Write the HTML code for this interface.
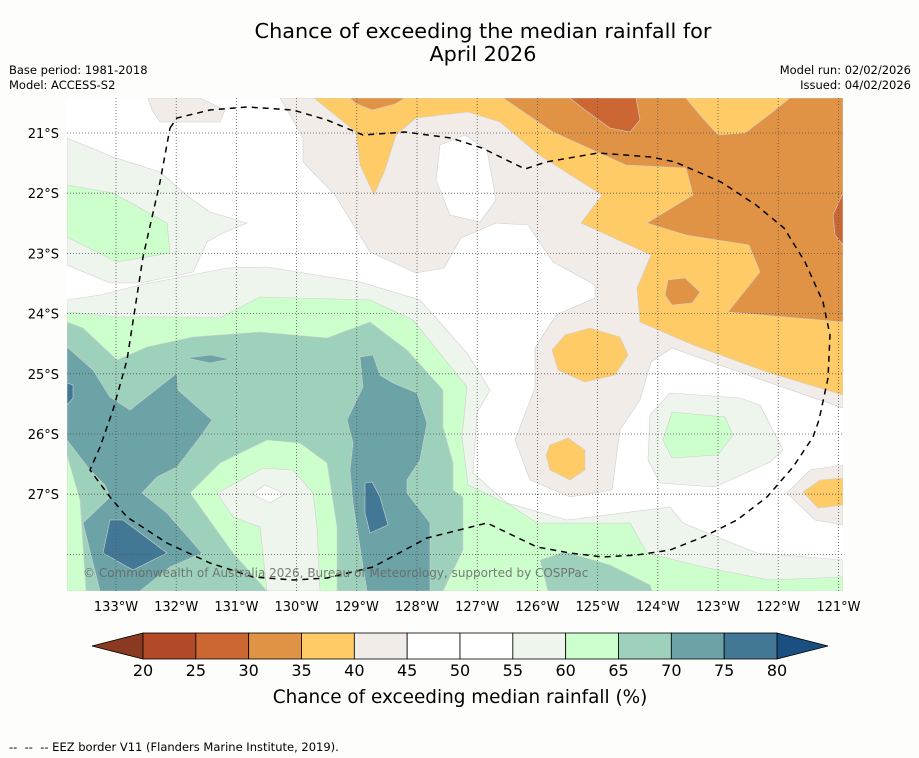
<!DOCTYPE html>
<html><head><meta charset="utf-8"><style>
body{margin:0;background:#fdfefc;width:919px;height:758px;overflow:hidden;font-family:"DejaVu Sans","Liberation Sans",sans-serif}
svg{position:absolute;left:0;top:0;font-family:"DejaVu Sans","Liberation Sans",sans-serif}
</style></head><body>
<svg id="s" width="919" height="758">
<text x="483" y="38" font-size="20.8" text-anchor="middle">Chance of exceeding the median rainfall for</text>
<text x="483" y="61" font-size="20.8" text-anchor="middle">April 2026</text>
<text x="9" y="74" font-size="11.5">Base period: 1981-2018</text>
<text x="9" y="89" font-size="11.5">Model: ACCESS-S2</text>
<text x="911" y="74" font-size="11.5" text-anchor="end">Model run: 02/02/2026</text>
<text x="911" y="89" font-size="11.5" text-anchor="end">Issued: 04/02/2026</text>
<g id="map"></g>
<g id="cb"></g>
<text x="460" y="703" font-size="18.4" text-anchor="middle">Chance of exceeding median rainfall (%)</text>
<text x="9" y="751" font-size="11.5" xml:space="preserve">--  --  -- EEZ border V11 (Flanders Marine Institute, 2019).</text>
</svg>
<script>
const lonTicks=[-133,-132,-131,-130,-129,-128,-127,-126,-125,-124,-123,-122,-121];
const latTicks=[-21,-22,-23,-24,-25,-26,-27];
const levels=[20,25,30,35,40,45,50,55,60,65,70,75,80];
const levelColors=["#b24a27","#cc6633","#e09344","#fecb66","#f1ece8","#ffffff","#ffffff","#edf5ec","#ccffcc","#9dd1bb","#6ba3a6","#427896"];
const X0=116,Y0=133,DEG=60.2;
function lonX(lon){return X0+(lon+133)*DEG;}
function latY(lat){return Y0+(-21-lat)*DEG;}
function px2(p){return [ -133+(p[0]-X0)/DEG, -21-(p[1]-Y0)/DEG ];}
const rawPolys=[
[4,[[300,98],[843,98],[843,408],[756,378],[672,348],[651,362],[640,400],[620,430],[612,490],[570,497],[530,480],[515,440],[535,388],[535,348],[556,315],[595,298],[595,285],[553,262],[528,225],[496,223],[461,238],[444,268],[416,273],[370,252],[335,195],[303,162],[303,138],[290,115],[280,98]]],
[5,[[440,145],[465,135],[487,150],[496,200],[480,222],[450,215],[436,180]]],
[4,[[148,98],[200,98],[225,110],[220,122],[160,122],[152,110]]],
[3,[[314,98],[843,98],[843,395],[767,372],[693,345],[640,322],[637,288],[651,255],[581,223],[602,195],[539,155],[500,122],[468,112],[416,118],[396,135],[385,170],[374,195],[360,165],[356,132]]],
[3,[[565,335],[590,328],[620,337],[628,355],[615,375],[585,382],[558,370],[552,350]]],
[3,[[550,445],[568,438],[585,450],[585,470],[570,480],[550,470],[546,455]]],
[2,[[503,98],[686,98],[700,115],[718,135],[745,133],[775,110],[790,98],[843,98],[843,322],[728,312],[760,272],[749,245],[686,235],[647,223],[693,195],[686,168],[626,165],[553,132]]],
[2,[[350,98],[405,98],[395,104],[372,110],[355,103]]],
[2,[[668,280],[685,278],[700,292],[692,303],[672,305],[665,295]]],
[1,[[570,98],[636,98],[640,120],[630,132],[610,128],[585,110]]],
[1,[[843,193],[833,215],[835,235],[843,245]]],
[7,[[67,138],[113,157],[160,172],[190,198],[210,212],[247,223],[223,233],[207,242],[193,272],[140,283],[110,283],[67,265]]],
[8,[[67,185],[113,193],[167,223],[170,253],[117,262],[67,237]]],
[7,[[67,300],[100,295],[140,285],[227,268],[267,267],[360,282],[420,300],[467,353],[490,390],[477,413],[473,473],[507,503],[567,520],[670,507],[683,523],[757,553],[843,560],[843,591],[67,591]]],
[8,[[67,312],[117,317],[173,317],[220,318],[260,297],[370,300],[413,320],[467,387],[462,437],[468,485],[510,505],[537,523],[630,523],[647,553],[703,567],[770,580],[843,577],[843,591],[67,591]]],
[9,[[67,322],[83,328],[117,360],[147,347],[193,337],[260,332],[327,338],[370,322],[407,350],[443,390],[443,427],[453,463],[453,490],[463,497],[463,550],[443,591],[67,591]]],
[8,[[190,493],[220,463],[267,440],[300,443],[327,463],[337,527],[337,591],[267,591],[233,553]]],
[7,[[217,493],[263,468],[293,470],[313,493],[317,527],[320,591],[267,591],[260,527],[233,517]]],
[5,[[252,494],[265,485],[285,494],[270,503]]],
[8,[[67,455],[80,500],[86,591],[67,591]]],
[10,[[67,347],[93,370],[110,397],[130,410],[177,373],[178,390],[212,420],[200,437],[177,467],[157,477],[142,493],[167,513],[202,553],[170,567],[140,591],[100,591],[83,523],[110,497],[105,485],[90,470],[67,440]]],
[11,[[110,520],[123,520],[167,553],[133,570],[103,553]]],
[11,[[67,383],[73,385],[73,398],[67,405]]],
[10,[[187,358],[210,355],[230,359],[210,363]]],
[10,[[360,357],[373,355],[380,375],[393,383],[417,393],[427,423],[420,460],[407,480],[407,493],[430,523],[430,591],[367,591],[353,503],[350,470],[353,443],[347,420],[363,387]]],
[11,[[365,483],[372,482],[380,497],[388,525],[370,533],[365,513]]],
[9,[[540,560],[565,552],[610,565],[650,585],[652,591],[548,591]]],
[7,[[670,393],[740,398],[760,405],[783,450],[770,462],[715,487],[660,483],[648,460],[650,415]]],
[8,[[672,412],[725,417],[733,435],[718,455],[672,458],[663,440]]],
[4,[[843,465],[810,470],[787,493],[815,520],[843,525]]],
[3,[[843,478],[820,480],[803,492],[818,508],[843,505]]]
];
const eezRaw=[[170,128],[177,118],[210,110],[247,107],[293,110],[327,120],[363,135],[405,132],[451,138],[482,148],[525,169],[546,162],[598,153],[651,157],[675,162],[721,182],[756,205],[784,228],[805,262],[823,302],[830,335],[828,378],[819,420],[813,437],[793,467],[767,497],[737,520],[703,537],[670,550],[637,555],[603,557],[570,553],[537,547],[487,523],[427,538],[373,567],[327,578],[293,580],[253,577],[210,563],[167,543],[127,517],[110,497],[90,470],[100,447],[113,410],[127,360],[143,257],[160,182],[170,128]];
const polys=rawPolys.map(p=>[p[0],p[1].map(px2)]);
const eez=eezRaw.map(px2);
const NS="http://www.w3.org/2000/svg";
function mk(t,a,parent){const e=document.createElementNS(NS,t);for(const k in a)e.setAttribute(k,a[k]);parent.appendChild(e);return e;}
const map=document.getElementById('map');
const L=67,R=843,T=98,B=591;
const defs=mk('defs',{},map);
const cp=mk('clipPath',{id:'clip'},defs);mk('rect',{x:L,y:T,width:R-L,height:B-T},cp);
const g=mk('g',{'clip-path':'url(#clip)'},map);
const bg=mk('rect',{x:L,y:T,width:R-L,height:B-T,fill:'#ffffff'},g);


polys.forEach((p,i)=>{
  const pts=p[1].map(q=>lonX(q[0]).toFixed(1)+','+latY(q[1]).toFixed(1)).join(' ');
  const e=mk('polygon',{points:pts,fill:levelColors[p[0]],stroke:'#cfcfcf','stroke-width':0.6},g);
  
  
});
lonTicks.forEach(l=>{const e=mk('line',{x1:lonX(l),x2:lonX(l),y1:T,y2:B,stroke:'#555','stroke-width':0.8,'stroke-dasharray':'1,2'},g);

});
latTicks.concat([-28]).forEach(l=>{const e=mk('line',{x1:L,x2:R,y1:latY(l),y2:latY(l),stroke:'#555','stroke-width':0.8,'stroke-dasharray':'1,2'},g);

});
const ez=mk('polyline',{points:eez.map(q=>lonX(q[0]).toFixed(1)+','+latY(q[1]).toFixed(1)).join(' '),fill:'none',stroke:'#000','stroke-width':1.5,'stroke-dasharray':'6,5'},g);


const cr=mk('text',{x:83,y:577,'font-size':12,fill:'#666','fill-opacity':0.85},g);
cr.textContent='© Commonwealth of Australia 2026, Bureau of Meteorology, supported by COSPPac';


lonTicks.forEach(l=>{const t=mk('text',{x:lonX(l),y:611,'font-size':13,'text-anchor':'middle'},map);t.textContent=Math.abs(l)+'°W';

});
latTicks.forEach(l=>{const t=mk('text',{x:59,y:latY(l)+5,'font-size':13,'text-anchor':'end'},map);t.textContent=Math.abs(l)+'°S';

});
const cb=document.getElementById('cb');
const cbL=143,cbR=777,cbT=633,cbB=659;
function cbX(v){return cbL+(v-levels[0])/(levels[levels.length-1]-levels[0])*(cbR-cbL);}
const lt=mk('polygon',{points:`${cbL},${cbT} ${cbL},${cbB} 92,${(cbT+cbB)/2}`,fill:'#8a3a20',stroke:'#000','stroke-width':0.8},cb);


const rt=mk('polygon',{points:`${cbR},${cbT} ${cbR},${cbB} 828,${(cbT+cbB)/2}`,fill:'#1a4f82',stroke:'#000','stroke-width':0.8},cb);


levelColors.forEach((c,i)=>{const r=mk('rect',{x:cbX(levels[i]),y:cbT,width:cbX(levels[i+1])-cbX(levels[i]),height:cbB-cbT,fill:c,stroke:'#000','stroke-width':0.8},cb);

});
levels.forEach(v=>{const t=mk('text',{x:cbX(v),y:676,'font-size':16,'text-anchor':'middle'},cb);t.textContent=v;

});
</script>
</body></html>
